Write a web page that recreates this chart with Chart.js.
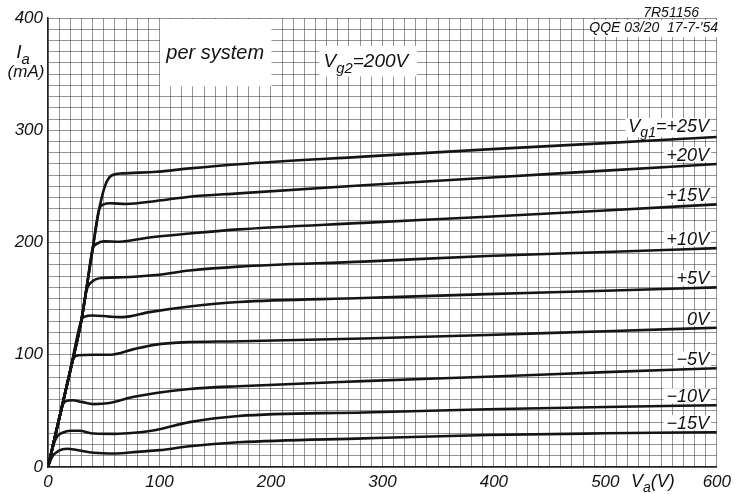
<!DOCTYPE html>
<html>
<head>
<meta charset="utf-8">
<script src="https://cdn.jsdelivr.net/npm/chart.js@4.4.0/dist/chart.umd.min.js"></script>
<style>
  html, body { margin: 0; background: #fff; }
  #wrap { width: 736px; height: 494px; }
</style>
</head>
<body>
<div id="wrap"><canvas id="ch" width="736" height="494"></canvas></div>
<script>
// anode voltage (V) and anode current (mA), one pair per grid-1 voltage
const vaP25 = [0, 10, 20, 30, 35, 40, 46, 51, 55, 61, 67, 97, 127, 171, 283, 394, 500, 600]
const iaP25 = [0, 43, 86, 131, 162, 194, 230, 250, 258, 261, 261.6, 263, 266, 269.7, 276.5, 283, 288.5, 294]

const vaP20 = [0, 10, 20, 30, 35, 40, 46, 50, 56, 70, 97, 127, 171, 283, 394, 500, 600]
const iaP20 = [0, 43, 86, 131, 162, 194, 230, 234, 235, 234.3, 237, 240.8, 243.8, 251, 257.7, 264, 270]

const vaP15 = [0, 10, 20, 30, 35, 40, 44, 50, 64, 91, 127, 171, 283, 394, 500, 600]
const iaP15 = [0, 43, 86, 131, 162, 194, 199, 201, 200.7, 204.5, 208, 211.7, 217.5, 223, 228.5, 234]

const vaP10 = [0, 10, 20, 30, 34.5, 40, 49, 67, 97, 127, 171, 283, 394, 500, 600]
const iaP10 = [0, 43, 86, 131, 157, 165.5, 168.5, 169, 171, 175, 178.5, 183, 188, 191.5, 195]

const vaP5 = [0, 10, 20, 30, 33, 40, 55, 67, 91, 127, 171, 283, 394, 500, 600]
const iaP5 = [0, 43, 86, 131, 134, 135, 134, 133.5, 138, 143, 147, 150.5, 154, 157, 160]

const va0 = [0, 10, 20, 23, 27, 40, 56, 77, 97, 120, 171, 283, 394, 500, 600]
const ia0 = [0, 43, 86, 97, 99.5, 100, 100, 105, 109, 111, 112, 114.5, 117.6, 121, 124]

const vaM5 = [0, 5, 10, 13.5, 17, 22, 30, 41, 55, 77, 97, 127, 171, 283, 394, 500, 600]
const iaM5 = [0, 21.5, 43, 56, 59, 59.5, 58, 56, 57, 62.5, 66, 69.5, 72, 76.5, 80.4, 84.5, 88]

const vaM10 = [0, 5, 8, 13, 20, 28, 41, 60, 77, 97, 127, 171, 283, 394, 500, 600]
const iaM10 = [0, 20, 27, 30.5, 32.3, 32.3, 29.8, 29.5, 30.5, 33, 40, 45.4, 48.6, 51.4, 53.5, 55]

const vaM15 = [0, 3.8, 9.8, 17, 26, 41, 60, 80, 100, 127, 171, 283, 394, 500, 600]
const iaM15 = [0, 9.2, 14.5, 16.3, 15.1, 12.7, 12, 13.5, 15, 18.5, 22, 25.5, 28.5, 30, 31]

// label text for each curve, [text, subscript?]
const curveLabels = [
    [['V', 0], ['g1', 1], ['=+25V', 0]],
    [['+20V', 0]],
    [['+15V', 0]],
    [['+10V', 0]],
    [['+5V', 0]],
    [['0V', 0]],
    [['\u22125V', 0]],
    [['\u221210V', 0]],
    [['\u221215V', 0]]
]

const curves = [
    [vaP25, iaP25], [vaP20, iaP20], [vaP15, iaP15], [vaP10, iaP10], [vaP5, iaP5],
    [va0, ia0], [vaM5, iaM5], [vaM10, iaM10], [vaM15, iaM15]
]

const FONT = "'Liberation Sans', Arial, sans-serif"

function toPoints(xs, ys) {
    return xs.map((x, i) => ({ x: x, y: ys[i] }))
}

function measureRich(ctx, parts, size) {
    let w = 0
    parts.forEach(p => {
        ctx.font = 'italic ' + (p[1] ? size * 0.78 : size) + 'px ' + FONT
        w += ctx.measureText(p[0]).width
    })
    return w
}

// draws text with subscript pieces
function drawRich(ctx, parts, x, y, size, align) {
    const w = measureRich(ctx, parts, size)
    let cx = x
    if (align === 'right') cx = x - w
    if (align === 'center') cx = x - w / 2
    ctx.textAlign = 'left'
    ctx.textBaseline = 'alphabetic'
    parts.forEach(p => {
        ctx.font = 'italic ' + (p[1] ? size * 0.78 : size) + 'px ' + FONT
        ctx.fillText(p[0], cx, y + (p[1] ? size * 0.3 : 0))
        cx += ctx.measureText(p[0]).width
    })
}

const annotations = {
    id: 'annotations',
    beforeDatasetsDraw(chart) {
        const ctx = chart.ctx
        const xs = chart.scales.x
        const ys = chart.scales.y
        ctx.save()
        ctx.fillStyle = '#fff'

        // "per system" box
        const bx1 = xs.getPixelForValue(100), bx2 = xs.getPixelForValue(200)
        const by1 = ys.getPixelForValue(400), by2 = ys.getPixelForValue(340)
        ctx.fillRect(bx1 + 0.5, by1 + 1, bx2 - bx1, by2 - by1)

        // Vg2 box
        const gx1 = xs.getPixelForValue(243), gx2 = xs.getPixelForValue(331)
        const gy1 = ys.getPixelForValue(375), gy2 = ys.getPixelForValue(348)
        ctx.fillRect(gx1, gy1, gx2 - gx1, gy2 - gy1)

        // type number box
        ctx.fillRect(592, 20, 127, 17)

        // curve label boxes
        const lx = xs.getPixelForValue(593)
        curveLabels.forEach((parts, i) => {
            const ia = curves[i][1]
            const base = ys.getPixelForValue(ia[ia.length - 1]) - (parts.length > 1 ? 5 : 3)
            const w = measureRich(ctx, parts, 18)
            ctx.fillStyle = '#fff'
            ctx.fillRect(lx - w - 3, base - 14, w + 5, parts.length > 1 ? 19 : 15)
        })

        ctx.fillStyle = '#111'
        drawRich(ctx, [['per system', 0]], (bx1 + bx2) / 2, by1 + 41, 20, 'center')
        drawRich(ctx, [['V', 0], ['g2', 1], ['=200V', 0]], (gx1 + gx2) / 2 - 2, gy1 + 21, 19, 'center')
        drawRich(ctx, [['7R51156', 0]], 699, 17, 14, 'right')
        drawRich(ctx, [["QQE 03/20  17-7-'54", 0]], 718, 32, 14, 'right')

        curveLabels.forEach((parts, i) => {
            const ia = curves[i][1]
            const base = ys.getPixelForValue(ia[ia.length - 1]) - (parts.length > 1 ? 5 : 3)
            drawRich(ctx, parts, lx, base, 18, 'right')
        })

        // axis titles
        drawRich(ctx, [['I', 0], ['a', 1]], 23, ys.getPixelForValue(364), 19, 'center')
        drawRich(ctx, [['(mA)', 0]], 26, ys.getPixelForValue(347), 17, 'center')
        drawRich(ctx, [['V', 0], ['a', 1], ['(V)', 0]], xs.getPixelForValue(523), 487, 18, 'left')
        ctx.restore()
    }
}

function createChart(id) {
    const ctx = document.getElementById(id).getContext('2d')
    const datasets = curves.map(c => ({
        data: toPoints(c[0], c[1]),
        showLine: true,
        borderColor: '#141414',
        borderWidth: 2.6,
        pointRadius: 0,
        cubicInterpolationMode: 'monotone'
    }))
    const gridStyle = { color: 'rgba(60,60,60,0.55)', lineWidth: 1, drawTicks: false }
    const tickFont = { family: FONT, size: 17, style: 'italic' }

    new Chart(ctx, {
        type: 'scatter',
        data: { datasets: datasets },
        options: {
            responsive: false,
            animation: false,
            layout: { padding: { top: 18, right: 15, left: 0, bottom: 0 } },
            plugins: { legend: { display: false }, tooltip: { enabled: false } },
            scales: {
                x: {
                    type: 'linear', min: 0, max: 600,
                    afterFit: s => { s.height = 27 },
                    grid: gridStyle,
                    border: { color: '#222', width: 1.5 },
                    ticks: {
                        stepSize: 10, autoSkip: false, maxRotation: 0, padding: 5,
                        color: '#111', font: tickFont,
                        callback: v => Math.round(v) % 100 === 0 ? Math.round(v) : ''
                    }
                },
                y: {
                    type: 'linear', min: 0, max: 400,
                    afterFit: s => { s.width = 48 },
                    grid: gridStyle,
                    border: { color: '#222', width: 1.5 },
                    ticks: {
                        stepSize: 10, autoSkip: false, padding: 5,
                        color: '#111', font: tickFont,
                        callback: v => Math.round(v) % 100 === 0 ? Math.round(v) : ''
                    }
                }
            }
        },
        plugins: [annotations]
    })
}

createChart('ch')
</script>
</body>
</html>
